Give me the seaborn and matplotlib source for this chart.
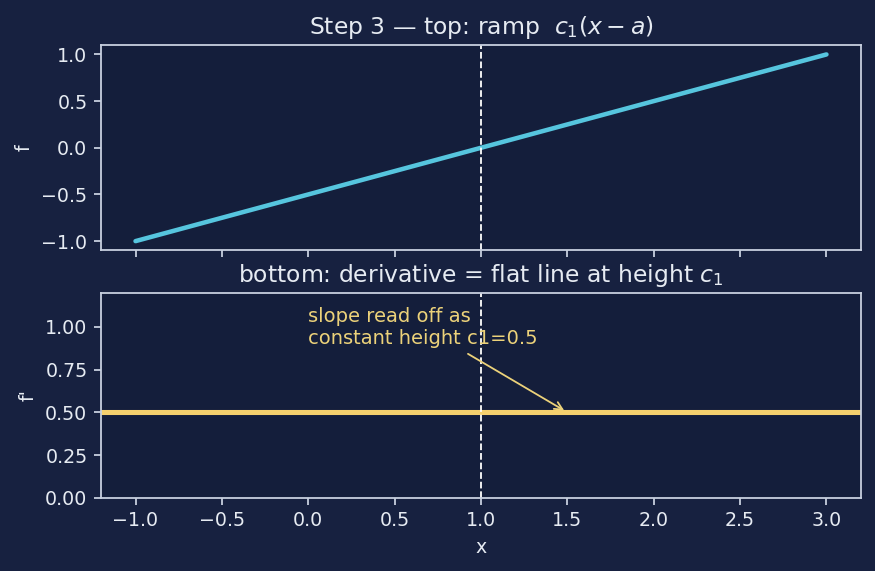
import numpy as np
import pandas as pd
import matplotlib
matplotlib.use('Agg')
import matplotlib.pyplot as plt
import seaborn as sns

# data
x_vals = [-1.0, 3.0]
ramp_vals = [-1.0, 1.0]
deriv_level = 0.5
a_pos = 1.0
arrow_xy = (1.5, 0.5)
note_xy = (0.0, 0.9)

fig_bg = '#172140'
ax_bg = '#141e3b'
fg = '#e6ebf2'
spine_c = '#c8d0df'
cyan = '#56c5de'
gold = '#f5d06e'

sns.set_theme(style='dark', rc={
    'figure.facecolor': fig_bg,
    'axes.facecolor': ax_bg,
    'axes.edgecolor': spine_c,
    'axes.labelcolor': fg,
    'xtick.color': spine_c,
    'ytick.color': spine_c,
    'xtick.labelcolor': fg,
    'ytick.labelcolor': fg,
    'text.color': fg,
    'xtick.bottom': True,
    'ytick.left': True,
    'axes.grid': False,
})
plt.rcParams['font.family'] = ['DejaVu Sans']
plt.rcParams['font.size'] = 11

dpi = 130
top_df = pd.DataFrame({'x': x_vals, 'f': ramp_vals})

fig, (ax1, ax2) = plt.subplots(2, 1, figsize=(875 / dpi, 571 / dpi), dpi=dpi, sharex=True)
fig.subplots_adjust(left=0.1154, right=0.984, top=0.921, bottom=0.128, hspace=0.205)

# top: ramp
sns.lineplot(data=top_df, x='x', y='f', ax=ax1, color=cyan, linewidth=2.5)
ax1.axvline(a_pos, color='white', linestyle='--', linewidth=1.0)
ax1.set_title('Step 3 — top: ramp  $c_1(x-a)$', fontsize=13, color=fg)
ax1.set_ylabel('f', fontsize=10.5)
ax1.set_xlabel('')
ax1.set_xlim(-1.2, 3.2)
ax1.set_ylim(-1.1, 1.1)
ax1.set_yticks([-1.0, -0.5, 0.0, 0.5, 1.0])

# bottom: derivative
ax2.axhline(deriv_level, color=gold, linewidth=2.8)
ax2.axvline(a_pos, color='white', linestyle='--', linewidth=1.0)
ax2.set_title('bottom: derivative = flat line at height $c_1$', fontsize=13, color=fg)
ax2.set_ylabel("f'", fontsize=10.5)
ax2.set_xlabel('x', fontsize=10.5)
ax2.set_ylim(0, 1.2)
ax2.set_yticks([0.0, 0.25, 0.5, 0.75, 1.0])
ax2.set_xticks(np.arange(-1.0, 3.01, 0.5))
ax2.annotate('slope read off as\nconstant height c1=0.5', xy=arrow_xy, xytext=note_xy,
             color='#ecd27a', fontsize=10.8,
             arrowprops=dict(arrowstyle='->', color='#ecd27a', lw=1.0))

for ax in (ax1, ax2):
    for s in ax.spines.values():
        s.set_color(spine_c)
        s.set_linewidth(1.0)
    ax.tick_params(length=4, width=1.0, labelsize=10.5)

fig.savefig('out.png', dpi=dpi, facecolor=fig_bg)
